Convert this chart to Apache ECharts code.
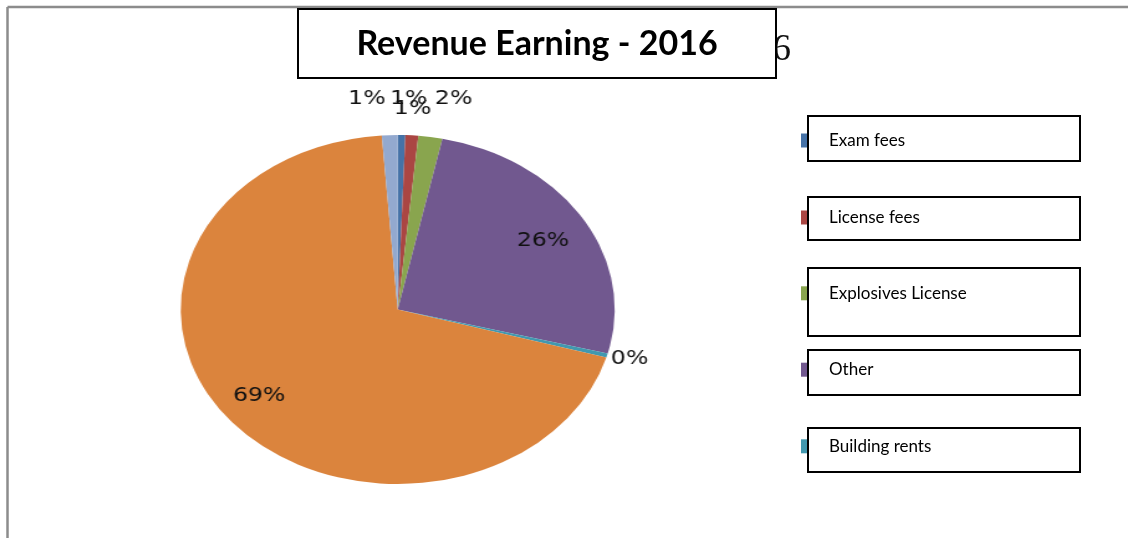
<!DOCTYPE html>
<html>
<head>
<meta charset="utf-8">
<title>Revenue Earning - 2016</title>
<script src="https://cdn.jsdelivr.net/npm/echarts@6/dist/echarts.min.js"></script>
<style>
  html, body { margin: 0; padding: 0; background: #fff; overflow: hidden; }
  #pie, #frame { position: absolute; left: 0; top: 0; width: 1128px; height: 538px; }
  /* the original pie is squashed into an ellipse, labels included */
  #pie { transform-origin: 397.7px 309.5px; transform: scaleX(1.2436); }
</style>
</head>
<body>
<div id="pie"></div>
<div id="frame"></div>
<script>
const categories = ['Exam fees', 'License fees', 'Explosives License', 'Other', 'Building rents', 'Category 6', 'Category 7']
const shares = [0.56, 0.96, 1.78, 25.76, 0.38, 69.39, 1.17]
const colors = ['#4572A7', '#AA4643', '#89A54E', '#71588F', '#4198AF', '#DB843D', '#93A9CF']
const legendItems = categories.slice(0, 5)

// where each data label sits (label line length / gap), like excel's "best fit"
const labelLen = [36, 26.4, 38.4, -44.4, 13.3, -37.4, 36.1]
const labelGap = [-10, -16.2, -2.2, -14.9, -9.8, -16.1, 2]

// legend rows: middle of marker, box top, box height
const rowMid = [140.5, 217.5, 293.3, 369.7, 446.3]
const boxTop = [116, 197, 268, 350, 428]
const boxHeight = [45, 43, 68, 45, 44]

const pieChart = echarts.init(document.getElementById('pie'))
pieChart.setOption({
  animation: false,
  series: [
    {
      type: 'pie',
      center: [397.7, 309.5],
      radius: 174.5,
      startAngle: 90,
      clockwise: true,
      silent: true,
      avoidLabelOverlap: false,
      labelLayout: { hideOverlap: false },
      percentPrecision: 0,
      label: {
        show: true,
        position: 'outside',
        formatter: '{d}%',
        fontFamily: 'DejaVu Sans',
        fontSize: 19,
        color: '#111'
      },
      labelLine: { show: false, length2: 0 },
      data: categories.map((name, i) => ({
        name: name,
        value: shares[i],
        itemStyle: { color: colors[i] },
        label: { distanceToLabelLine: labelGap[i] },
        labelLine: { show: false, length: labelLen[i], length2: 0 }
      }))
    }
  ]
})

const frameChart = echarts.init(document.getElementById('frame'))
frameChart.setOption({
  animation: false,
  legend: legendItems.map((name, i) => ({
    data: [name],
    left: 801,
    top: rowMid[i] - 9,
    padding: 0,
    icon: 'rect',
    itemWidth: 6,
    itemHeight: 14,
    selectedMode: false,
    textStyle: {
      fontFamily: 'Lato',
      fontSize: 17,
      lineHeight: 18,
      color: '#000',
      padding: [0, 0, 0, 17]
    }
  })),
  graphic: [
    // grey chart-area frame (top and left edges only)
    { type: 'line', z: 1, shape: { x1: 7.5, y1: 7, x2: 1128, y2: 7 }, style: { stroke: '#8c8c8c', lineWidth: 2.5 } },
    { type: 'line', z: 1, shape: { x1: 7.5, y1: 7, x2: 7.5, y2: 538 }, style: { stroke: '#8c8c8c', lineWidth: 2.5 } },
    // tail of the original title peeking out behind the box
    {
      type: 'text', z: 2, x: 791, y: 50,
      style: { text: '6', fontFamily: 'Liberation Serif', fontSize: 37, fill: '#111', align: 'right', verticalAlign: 'middle' }
    },
    {
      type: 'rect', z: 3,
      shape: { x: 298, y: 9, width: 478, height: 69 },
      style: { fill: '#fff', stroke: '#000', lineWidth: 2 }
    },
    {
      type: 'text', z: 4, x: 537, y: 44,
      style: { text: 'Revenue Earning - 2016', fontFamily: 'Lato', fontWeight: 'bold', fontSize: 34, fill: '#000', align: 'center', verticalAlign: 'middle' }
    }
  ].concat(legendItems.map((name, i) => ({
    type: 'rect', z: 1,
    shape: { x: 808, y: boxTop[i], width: 272, height: boxHeight[i] },
    style: { fill: null, stroke: '#000', lineWidth: 2 }
  }))),
  series: [
    {
      // invisible copy of the pie, only feeds the legend its colours
      type: 'pie',
      radius: 0,
      silent: true,
      label: { show: false },
      data: categories.map((name, i) => ({ name: name, value: shares[i], itemStyle: { color: colors[i] } }))
    }
  ]
})
</script>
</body>
</html>
